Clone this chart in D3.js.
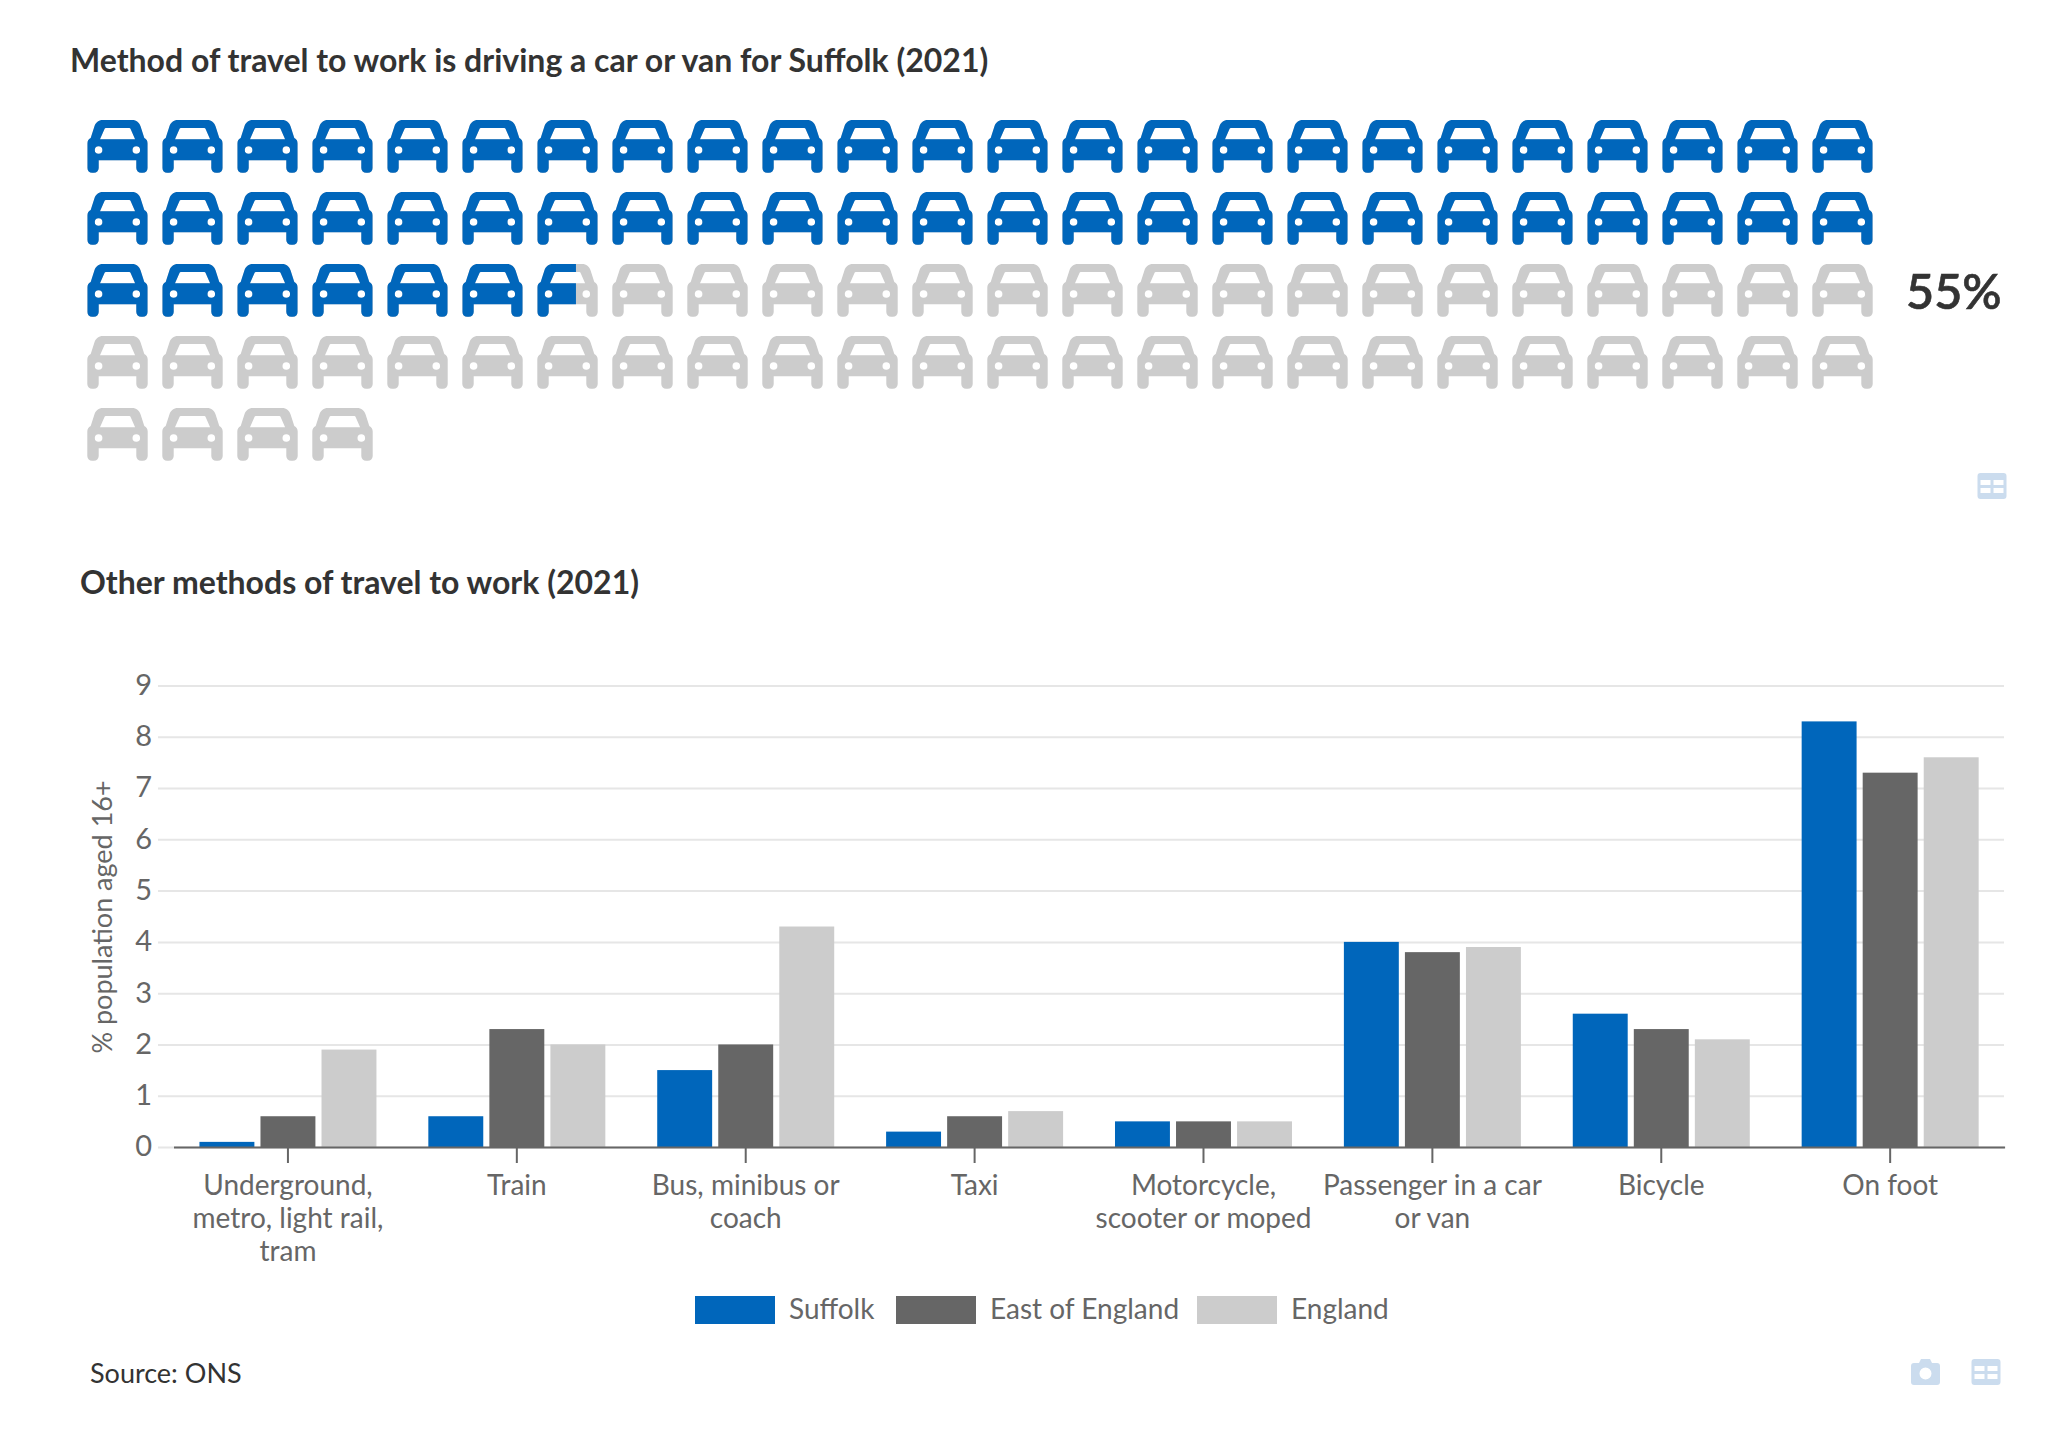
<!DOCTYPE html>
<html>
<head>
    <meta charset="UTF-8">
    <title>Method of travel to work</title>
    <script src="https://d3js.org/d3.v7.min.js"></script>
    <style>
        body { margin: 0; padding: 0; background: #fff; font-family: Lato, sans-serif; }
        svg { display: block; }
        .title { font-size: 32px; font-weight: 700; fill: #333; }
        .tick-label { font-family: Lato, sans-serif; font-size: 28px; fill: #666; }
        .grid line { stroke: #e6e6e6; stroke-width: 2px; }
        .grid path { display: none; }
    </style>
</head>
<body>
    <svg id="chart" width="2045" height="1432"></svg>

    <script>
        // icon chart
        const iconShare = 54.64;
        const iconShareLabel = "55%";
        const iconTotal = 100;
        const iconsPerRow = 24;

        // bar chart
        const categories = ["Underground, metro, light rail, tram", "Train", "Bus, minibus or coach", "Taxi",
            "Motorcycle, scooter or moped", "Passenger in a car or van", "Bicycle", "On foot"];
        const seriesNames = ["Suffolk", "East of England", "England"];
        const suffolk = [0.1, 0.6, 1.5, 0.3, 0.5, 4.0, 2.6, 8.3];
        const eastOfEngland = [0.6, 2.3, 2.0, 0.6, 0.5, 3.8, 2.3, 7.3];
        const england = [1.9, 2.0, 4.3, 0.7, 0.5, 3.9, 2.1, 7.6];
        const yTicks = [0, 1, 2, 3, 4, 5, 6, 7, 8, 9];

        const colors = { blue: "#0066bb", dark: "#666666", light: "#cccccc", icon: "#cbdcee" };
        const seriesColor = d3.scaleOrdinal().domain(seriesNames).range([colors.blue, colors.dark, colors.light]);

        const svg = d3.select("#chart");

        // car icon, 60 x 53 local units
        const carPath = "M15.5 0H44.9C49 0 52 2.6 53.3 6.5L57 18C59.2 19 60.4 21 60.4 23.5V48A4.8 4.8 0 0 1 55.6 52.8H53.8A4.8 4.8 0 0 1 49 48V40.3H11.4V48A4.8 4.8 0 0 1 6.6 52.8H4.8A4.8 4.8 0 0 1 0 48V23.5C0 21 1.2 19 3.4 18L7.1 6.5C8.4 2.6 11.4 0 15.5 0Z"
            + "M18.5 8H42C42.6 8 43 8.3 43.2 8.8L47.8 19.2H12.7L17.3 8.8C17.5 8.3 17.9 8 18.5 8Z"
            + "M7.5 30a3.8 3.8 0 1 0 7.6 0a3.8 3.8 0 1 0 -7.6 0Z"
            + "M45.2 30a3.8 3.8 0 1 0 7.6 0a3.8 3.8 0 1 0 -7.6 0Z";

        const iconX = d3.scaleBand().domain(d3.range(iconsPerRow)).range([87.3, 87.3 + 75 * iconsPerRow]);
        const iconY = d3.scaleBand().domain(d3.range(5)).range([120, 120 + 72 * 5]);
        const iconWidth = 60.4;

        svg.append("text").attr("class", "title").attr("x", 70).attr("y", 72)
            .text("Method of travel to work is driving a car or van for Suffolk (2021)");

        const icons = svg.append("g").selectAll("g")
            .data(d3.range(iconTotal))
            .join("g")
            .attr("transform", d => `translate(${iconX(d % iconsPerRow)},${iconY(Math.floor(d / iconsPerRow))})`);

        icons.append("path").attr("d", carPath).attr("fill", colors.light).attr("fill-rule", "evenodd");

        const defs = svg.append("defs");
        defs.selectAll("clipPath")
            .data(d3.range(iconTotal))
            .join("clipPath")
            .attr("id", d => `car-clip-${d}`)
            .append("rect")
            .attr("x", 0).attr("y", -1).attr("height", 56)
            .attr("width", d => d3.scaleLinear().domain([d, d + 1]).range([0, iconWidth]).clamp(true)(iconShare));

        icons.append("path").attr("d", carPath).attr("fill", colors.blue).attr("fill-rule", "evenodd")
            .attr("clip-path", d => `url(#car-clip-${d})`);

        svg.append("text").attr("x", 1906).attr("y", 309)
            .style("font-size", "48.5px").style("font-weight", 600).style("fill", "#333")
            .style("stroke", "#333").style("stroke-width", "0.6px")
            .text(iconShareLabel);

        // bar chart
        svg.append("text").attr("class", "title").attr("x", 80).attr("y", 594)
            .text("Other methods of travel to work (2021)");

        const x0 = d3.scaleBand().domain(categories).range([173.5, 2004.6]);
        const x1 = d3.scaleBand().domain(seriesNames).range([-88.5, 88.5]).paddingInner(0.1);
        const y = d3.scaleLinear().domain([0, 9]).range([1147, 685.5]);

        svg.append("g").attr("class", "grid").attr("transform", "translate(158,0)")
            .call(d3.axisLeft(y).tickValues(yTicks).tickSize(-1846).tickFormat(""));

        // y tick labels
        svg.append("g").selectAll("text")
            .data(yTicks)
            .join("text")
            .attr("class", "tick-label")
            .style("font-size", "29px")
            .attr("x", 152)
            .attr("y", d => y(d) - 1)
            .attr("dy", "0.36em")
            .attr("text-anchor", "end")
            .text(d => d);

        svg.append("text").attr("class", "tick-label")
            .style("font-size", "27px")
            .attr("transform", "translate(112,917) rotate(-90)")
            .attr("text-anchor", "middle")
            .text("% population aged 16+");

        const seriesValues = [suffolk, eastOfEngland, england];
        svg.append("g").selectAll("g")
            .data(seriesNames)
            .join("g")
            .attr("fill", d => seriesColor(d))
            .each(function(name, s) {
                d3.select(this).selectAll("rect")
                    .data(seriesValues[s])
                    .join("rect")
                    .attr("x", (d, i) => x0(categories[i]) + x0.bandwidth() / 2 + x1(name))
                    .attr("y", d => y(d))
                    .attr("width", x1.bandwidth())
                    .attr("height", d => y(0) - y(d));
            });

        const xAxis = svg.append("g").attr("transform", `translate(0,${y(0)})`)
            .call(d3.axisBottom(x0).tickSize(16).tickSizeOuter(0));
        xAxis.select(".domain").attr("stroke", colors.dark).attr("stroke-width", 2);
        xAxis.selectAll(".tick line").attr("stroke", colors.dark).attr("stroke-width", 2);
        xAxis.selectAll(".tick text").attr("class", "tick-label").attr("y", 47.5).attr("dy", 0)
            .call(wrap, 222);

        // wrap the category names into lines under the tick
        function wrap(sel, maxWidth) {
            sel.each(function() {
                const text = d3.select(this);
                const words = text.text().split(" ");
                text.text(null);
                let line = [];
                let tspan = text.append("tspan").attr("x", 0);
                words.forEach(w => {
                    line.push(w);
                    tspan.text(line.join(" "));
                    if (tspan.node().getComputedTextLength() > maxWidth) {
                        line.pop();
                        tspan.text(line.join(" "));
                        line = [w];
                        tspan = text.append("tspan").attr("x", 0).attr("dy", 33.4).text(w);
                    }
                });
            });
        }

        // legend
        const legendX = [695, 896, 1197];
        const legend = svg.append("g").selectAll("g")
            .data(seriesNames)
            .join("g")
            .attr("transform", (d, i) => `translate(${legendX[i]},1296)`);
        legend.append("rect").attr("width", 80).attr("height", 28).attr("fill", d => seriesColor(d));
        legend.append("text").attr("class", "tick-label").attr("x", 94).attr("y", 23).text(d => d);

        svg.append("text").attr("x", 90).attr("y", 1383)
            .style("font-size", "27px").style("fill", "#333")
            .text("Source: ONS");

        // table and camera buttons
        function tableIcon(x, y) {
            const g = svg.append("g").attr("transform", `translate(${x},${y})`);
            g.append("path").attr("fill", colors.icon).attr("fill-rule", "evenodd")
                .attr("d", "M3 0H26A3 3 0 0 1 29 3V23A3 3 0 0 1 26 26H3A3 3 0 0 1 0 23V3A3 3 0 0 1 3 0Z"
                    + "M3 7V12H13V7ZM16 7V12H26V7ZM3 15V20H13V15ZM16 15V20H26V15Z");
        }
        function cameraIcon(x, y) {
            const g = svg.append("g").attr("transform", `translate(${x},${y})`);
            g.append("path").attr("fill", colors.icon).attr("fill-rule", "evenodd")
                .attr("d", "M3 4H8L10 0H19L21 4H26A3 3 0 0 1 29 7V23A3 3 0 0 1 26 26H3A3 3 0 0 1 0 23V7A3 3 0 0 1 3 4Z"
                    + "M8.5 14.5a6 6 0 1 0 12 0a6 6 0 1 0 -12 0Z");
        }
        tableIcon(1977.5, 473);
        cameraIcon(1911, 1359);
        tableIcon(1971.5, 1359);
    </script>
</body>
</html>
